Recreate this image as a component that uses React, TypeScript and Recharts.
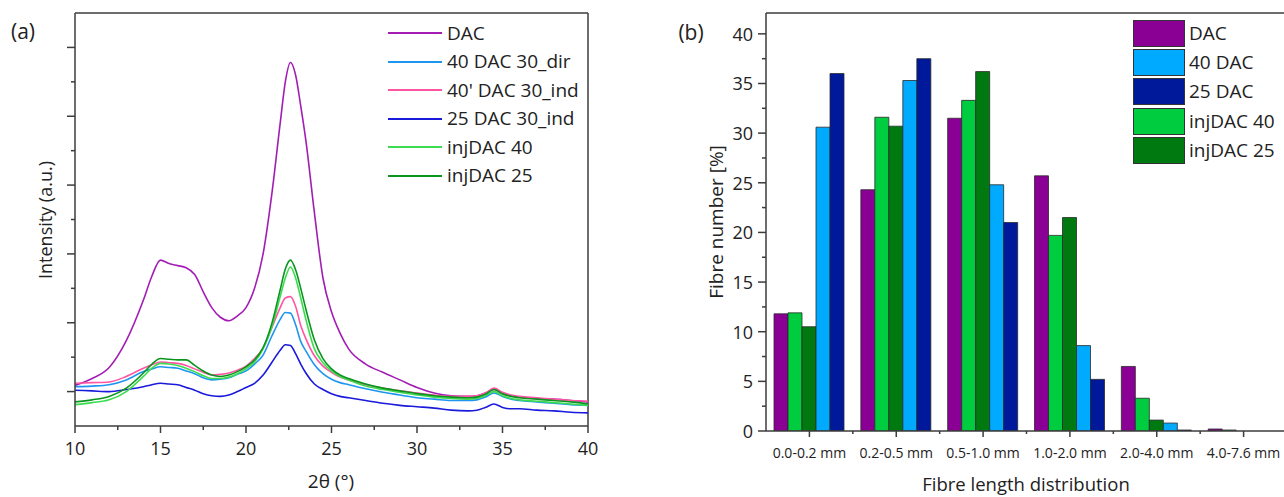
import React from 'react';
import {
  LineChart,
  Line,
  BarChart,
  Bar,
  XAxis,
  YAxis,
  ReferenceLine,
} from 'recharts';

// ── Data: (a) XRD patterns ──

const TWO_THETA = [
  10, 11, 12, 13, 14, 14.5, 15, 15.5, 16, 16.5, 17, 17.5, 18, 18.5, 19, 19.5, 20, 20.5, 21, 21.5, 22,
  22.3, 22.6, 22.9, 23.2, 23.5, 24, 24.5, 25, 25.5, 26, 27, 28, 29, 30, 31, 32, 33, 33.5, 34, 34.5, 35,
  35.5, 36, 37, 38, 39, 40,
];

const DAC_XRD = [
  0.59, 0.69, 0.85, 1.24, 1.83, 2.18, 2.41, 2.36, 2.33, 2.3, 2.2, 1.95, 1.72, 1.58, 1.53, 1.6, 1.72, 2.0, 2.5, 3.35, 4.4,
  5.0, 5.28, 5.1, 4.65, 4.15, 3.1, 2.15, 1.66, 1.35, 1.12, 0.9, 0.78, 0.67, 0.56, 0.48, 0.44, 0.43, 0.44, 0.48, 0.53, 0.47,
  0.44, 0.42, 0.4, 0.39, 0.37, 0.35,
];

const DIR40_XRD = [
  0.57, 0.58, 0.6, 0.67, 0.79, 0.83, 0.86, 0.85, 0.84, 0.8, 0.76, 0.7, 0.67, 0.68, 0.7, 0.75, 0.8, 0.9, 1.03, 1.3, 1.55,
  1.65, 1.64, 1.47, 1.23, 1.09, 0.89, 0.76, 0.68, 0.63, 0.6, 0.54, 0.49, 0.45, 0.41, 0.39, 0.37, 0.37, 0.38, 0.42, 0.48, 0.43,
  0.39, 0.37, 0.35, 0.33, 0.31, 0.3,
];

const IND40_XRD = [
  0.62, 0.63, 0.64, 0.72, 0.84, 0.89, 0.93, 0.92, 0.91, 0.88, 0.83, 0.78, 0.74, 0.75, 0.77, 0.81, 0.87, 0.98, 1.13, 1.42, 1.72,
  1.86, 1.88, 1.74, 1.46, 1.27, 1.02, 0.87, 0.78, 0.71, 0.67, 0.6, 0.55, 0.51, 0.48, 0.45, 0.43, 0.43, 0.44, 0.48, 0.55, 0.49,
  0.45, 0.43, 0.41, 0.39, 0.37, 0.36,
];

const IND25_XRD = [
  0.52, 0.51, 0.5, 0.53, 0.57, 0.6, 0.62, 0.61, 0.6, 0.56, 0.52, 0.47, 0.44, 0.43, 0.45, 0.5, 0.56, 0.62, 0.74, 0.92, 1.1,
  1.18, 1.17, 1.05, 0.9, 0.77, 0.61, 0.53, 0.47, 0.43, 0.41, 0.37, 0.33, 0.3, 0.28, 0.26, 0.23, 0.22, 0.23, 0.27, 0.32, 0.27,
  0.25, 0.25, 0.23, 0.22, 0.2, 0.19,
];

const INJ40_XRD = [
  0.31, 0.34, 0.38, 0.5, 0.72, 0.84, 0.91, 0.9, 0.88, 0.84, 0.79, 0.73, 0.69, 0.69, 0.71, 0.76, 0.83, 0.93, 1.12, 1.43, 1.88,
  2.15, 2.31, 2.15, 1.86, 1.55, 1.12, 0.92, 0.8, 0.72, 0.67, 0.58, 0.53, 0.49, 0.45, 0.42, 0.4, 0.39, 0.4, 0.44, 0.5, 0.44,
  0.4, 0.38, 0.36, 0.34, 0.32, 0.3,
];

const INJ25_XRD = [
  0.35, 0.38, 0.43, 0.55, 0.77, 0.9, 0.98, 0.97, 0.96, 0.96, 0.88, 0.8, 0.74, 0.72, 0.74, 0.79, 0.86, 0.96, 1.14, 1.48, 1.98,
  2.28, 2.41, 2.27, 2.0, 1.7, 1.25, 0.98, 0.83, 0.74, 0.69, 0.61, 0.55, 0.51, 0.47, 0.44, 0.42, 0.41, 0.42, 0.46, 0.53, 0.47,
  0.43, 0.41, 0.39, 0.37, 0.35, 0.32,
];

const X_TICKS_A = [10, 12.5, 15, 17.5, 20, 22.5, 25, 27.5, 30, 32.5, 35, 37.5, 40];
const Y_TICKS_A = [0.5, 1, 1.5, 2, 2.5, 3, 3.5, 4, 4.5, 5, 5.5];

// ── Data: (b) fibre length distribution ──

const LENGTH_BINS = ['0.0-0.2 mm', '0.2-0.5 mm', '0.5-1.0 mm', '1.0-2.0 mm', '2.0-4.0 mm', '4.0-7.6 mm'];
const DAC_FIB = [11.8, 24.3, 31.5, 25.7, 6.5, 0.2];
const DAC40_FIB = [30.6, 35.3, 24.8, 8.6, 0.8, 0];
const DAC25_FIB = [36.0, 37.5, 21.0, 5.2, 0.1, 0];
const INJ40_FIB = [11.9, 31.6, 33.3, 19.7, 3.3, 0.1];
const INJ25_FIB = [10.5, 30.7, 36.2, 21.5, 1.1, 0];

const Y_TICKS_B = [0, 2.5, 5, 7.5, 10, 12.5, 15, 17.5, 20, 22.5, 25, 27.5, 30, 32.5, 35, 37.5, 40];

// ── Styles ──

const AXIS = '#3c3c3c';
const TXT = '#222';
const FONT = '"Open Sans", sans-serif';

const LINE_SERIES = [
  { key: 'dac', name: 'DAC', color: '#a31db5', values: DAC_XRD },
  { key: 'dir40', name: '40 DAC 30_dir', color: '#1e96f0', values: DIR40_XRD },
  { key: 'ind40', name: "40' DAC 30_ind", color: '#ff55a3', values: IND40_XRD },
  { key: 'ind25', name: '25 DAC 30_ind', color: '#1a1adc', values: IND25_XRD },
  { key: 'inj40', name: 'injDAC 40', color: '#3cdc50', values: INJ40_XRD },
  { key: 'inj25', name: 'injDAC 25', color: '#0a961e', values: INJ25_XRD },
];

const BAR_SERIES = [
  { key: 'dac', name: 'DAC', color: '#8b0094', values: DAC_FIB },
  { key: 'dac40', name: '40 DAC', color: '#00aaff', values: DAC40_FIB },
  { key: 'dac25', name: '25 DAC', color: '#00189a', values: DAC25_FIB },
  { key: 'inj40', name: 'injDAC 40', color: '#00cc40', values: INJ40_FIB },
  { key: 'inj25', name: 'injDAC 25', color: '#007a10', values: INJ25_FIB },
];
// bars are drawn in this order inside each group
const BAR_ORDER = ['dac', 'inj40', 'inj25', 'dac40', 'dac25'];

const xrdData = TWO_THETA.map((x, i) => {
  const row: Record<string, number> = { x };
  LINE_SERIES.forEach((s) => (row[s.key] = s.values[i]));
  return row;
});

const fibreData = LENGTH_BINS.map((bin, i) => {
  const row: Record<string, any> = { bin };
  BAR_SERIES.forEach((s) => (row[s.key] = s.values[i]));
  return row;
});

// ── Ticks ──

function XTickA({ x, y, payload }: any) {
  const major = payload.value % 5 === 0;
  return (
    <g>
      <line x1={x} x2={x} y1={y} y2={y + (major ? 7 : 4)} stroke={AXIS} strokeWidth={1.5} />
      {major && (
        <text x={x} y={y + 22} textAnchor="middle" dominantBaseline="central" fontSize={18} fill={TXT} fontFamily={FONT}>
          {payload.value}
        </text>
      )}
    </g>
  );
}

function YTickA({ x, y, payload }: any) {
  const major = (payload.value * 2) % 2 === 1;
  return <line x1={x - (major ? 8 : 4)} x2={x} y1={y} y2={y} stroke={AXIS} strokeWidth={1.5} />;
}

const BAND_B = 86.8;

function XTickB({ x, y, payload }: any) {
  return (
    <g>
      <line x1={x} x2={x} y1={y} y2={y + 6} stroke={AXIS} strokeWidth={1.5} />
      <line x1={x + BAND_B / 2} x2={x + BAND_B / 2} y1={y} y2={y + 3} stroke={AXIS} strokeWidth={1.5} />
      <text x={x} y={y + 21} textAnchor="middle" dominantBaseline="central" fontSize={14} fill={TXT} fontFamily={FONT}>
        {payload.value}
      </text>
    </g>
  );
}

function YTickB({ x, y, payload }: any) {
  const major = payload.value % 5 === 0;
  return (
    <g>
      <line x1={x - (major ? 8 : 4)} x2={x} y1={y} y2={y} stroke={AXIS} strokeWidth={1.5} />
      {major && (
        <text x={x - 13} y={y} textAnchor="end" dominantBaseline="central" fontSize={18} fill={TXT} fontFamily={FONT}>
          {payload.value}
        </text>
      )}
    </g>
  );
}

// ── Overlay text helpers ──

function Txt({ x, y, size, rotate, children }: any) {
  return (
    <div
      style={{
        position: 'absolute',
        left: x,
        top: y,
        transform: `translate(-50%, -50%)${rotate ? ` rotate(${rotate}deg)` : ''}`,
        fontSize: size,
        lineHeight: 1.2,
        whiteSpace: 'nowrap',
        color: TXT,
      }}
    >
      {children}
    </div>
  );
}

function LineLegend() {
  return (
    <div style={{ position: 'absolute', left: 388, top: 19 }}>
      {LINE_SERIES.map((s) => (
        <div key={s.key} style={{ display: 'flex', alignItems: 'center', height: 28.5 }}>
          <span style={{ width: 54, height: 2, background: s.color, display: 'inline-block' }} />
          <span style={{ marginLeft: 5, fontSize: 19, lineHeight: 1, color: TXT }}>{s.name}</span>
        </div>
      ))}
    </div>
  );
}

function BarLegend() {
  return (
    <div style={{ position: 'absolute', left: 1133, top: 19 }}>
      {BAR_SERIES.map((s) => (
        <div key={s.key} style={{ display: 'flex', alignItems: 'center', height: 29.2 }}>
          <span
            style={{
              width: 50,
              height: 25,
              background: s.color,
              border: '1px solid #333',
              display: 'inline-block',
            }}
          />
          <span style={{ marginLeft: 4, fontSize: 19, lineHeight: 1, color: TXT }}>{s.name}</span>
        </div>
      ))}
    </div>
  );
}

export default function App() {
  return (
    <div
      style={{
        position: 'fixed',
        left: 0,
        top: 0,
        width: 1284,
        height: 497,
        overflow: 'hidden',
        background: '#fff',
        fontFamily: FONT,
      }}
    >
      {/* (a) XRD */}
      <div style={{ position: 'absolute', left: 0, top: 0 }}>
        <LineChart width={620} height={497} data={xrdData} margin={{ top: 13, right: 32, bottom: 41, left: 35 }}>
          <XAxis
            type="number"
            dataKey="x"
            domain={[10, 40]}
            ticks={X_TICKS_A}
            interval={0}
            height={30}
            tickSize={0}
            tickMargin={0}
            tick={<XTickA />}
            axisLine={{ stroke: AXIS, strokeWidth: 1.5 }}
            allowDataOverflow
          />
          <YAxis
            type="number"
            domain={[0, 6]}
            ticks={Y_TICKS_A}
            interval={0}
            width={40}
            tickSize={0}
            tickMargin={0}
            tick={<YTickA />}
            axisLine={{ stroke: AXIS, strokeWidth: 1.5 }}
            allowDataOverflow
          />
          <ReferenceLine y={6} stroke={AXIS} strokeWidth={1.5} />
          <ReferenceLine x={40} stroke={AXIS} strokeWidth={1.5} />
          {LINE_SERIES.map((s) => (
            <Line
              key={s.key}
              type="monotone"
              dataKey={s.key}
              name={s.name}
              stroke={s.color}
              strokeWidth={1.6}
              dot={false}
              isAnimationActive={false}
            />
          ))}
        </LineChart>
      </div>
      <LineLegend />
      <Txt x={23} y={32} size={21}>(a)</Txt>
      <Txt x={46} y={220} size={18} rotate={-90}>Intensity (a.u.)</Txt>
      <Txt x={331} y={481} size={19}>2θ (°)</Txt>

      {/* (b) fibre length */}
      <div style={{ position: 'absolute', left: 640, top: 0 }}>
        <BarChart
          width={660}
          height={497}
          data={fibreData}
          barGap={0}
          margin={{ top: 13, right: 13, bottom: 36, left: 66 }}
        >
          <XAxis
            dataKey="bin"
            type="category"
            interval={0}
            height={30}
            tickSize={0}
            tickMargin={0}
            tick={<XTickB />}
            axisLine={{ stroke: AXIS, strokeWidth: 1.5 }}
          />
          <YAxis
            type="number"
            domain={[0, 42.1]}
            ticks={Y_TICKS_B}
            interval={0}
            width={60}
            tickSize={0}
            tickMargin={0}
            tick={<YTickB />}
            axisLine={{ stroke: AXIS, strokeWidth: 1.5 }}
            allowDataOverflow
          />
          <ReferenceLine y={42.1} stroke={AXIS} strokeWidth={1.5} />
          {BAR_ORDER.map((k) => {
            const s = BAR_SERIES.find((b) => b.key === k)!;
            return (
              <Bar
                key={s.key}
                dataKey={s.key}
                name={s.name}
                fill={s.color}
                stroke="#2a2a2a"
                strokeWidth={0.8}
                barSize={14}
                isAnimationActive={false}
              />
            );
          })}
        </BarChart>
      </div>
      <BarLegend />
      <Txt x={691} y={33} size={21}>(b)</Txt>
      <Txt x={716} y={222} size={19} rotate={-90}>Fibre number [%]</Txt>
      <Txt x={1026} y={484} size={18.5}>Fibre length distribution</Txt>
    </div>
  );
}
